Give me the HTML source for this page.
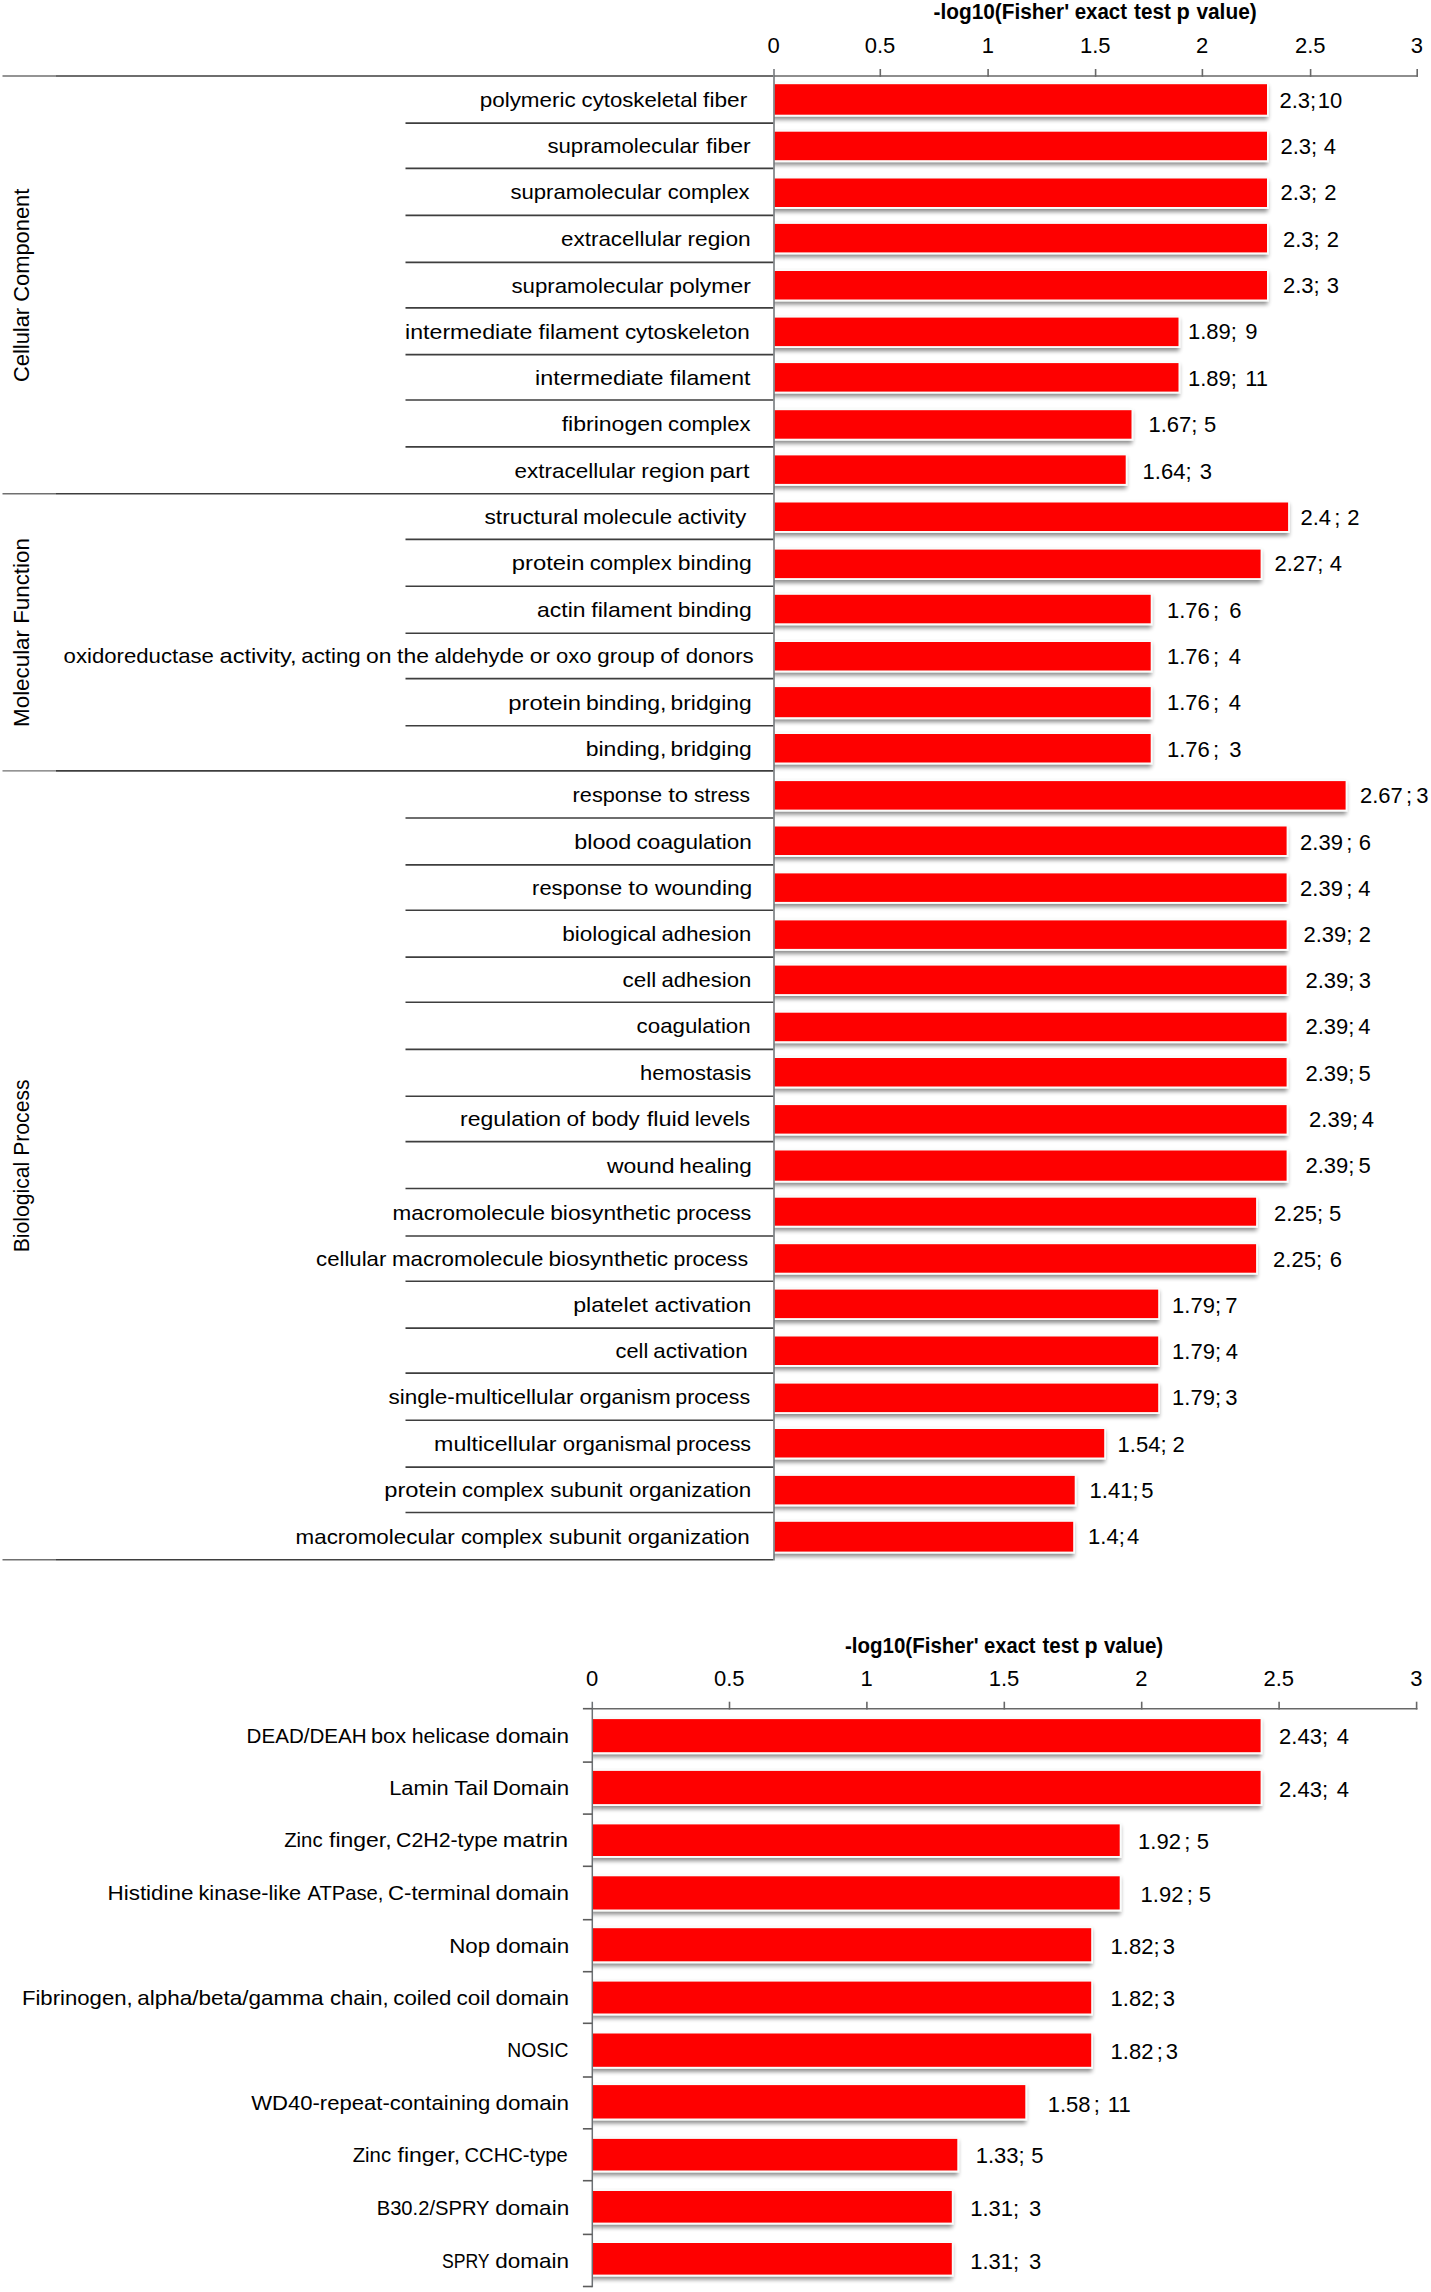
<!DOCTYPE html>
<html lang="en"><head><meta charset="utf-8"><title>GO enrichment bar charts</title>
<style>html,body{margin:0;padding:0;background:#fff}svg{display:block}</style>
</head><body>
<svg width="1431" height="2292" viewBox="0 0 1431 2292" font-family='"Liberation Sans", sans-serif' font-size="20.4" fill="#000">
<defs><filter id="sh" x="-2%" y="-40%" width="104%" height="190%"><feGaussianBlur in="SourceAlpha" stdDeviation="2.1"/><feOffset dx="-0.6" dy="3.2" result="b"/><feComponentTransfer><feFuncA type="linear" slope="0.46"/></feComponentTransfer><feMerge><feMergeNode/><feMergeNode in="SourceGraphic"/></feMerge></filter><clipPath id="c1"><rect x="774.0" y="0" width="1431" height="1600"/></clipPath><clipPath id="c2"><rect x="592.3" y="1600" width="1431" height="700"/></clipPath></defs>
<rect width="1431" height="2292" fill="#fff"/>
<g clip-path="url(#c1)"><g filter="url(#sh)">
<rect x="773.0" y="82.6" width="495.8" height="34.0" fill="#fafcfb"/>
<rect x="773.0" y="130.1" width="495.8" height="32.0" fill="#fafcfb"/>
<rect x="773.0" y="176.9" width="495.8" height="32.0" fill="#fafcfb"/>
<rect x="773.0" y="222.3" width="495.8" height="32.0" fill="#fafcfb"/>
<rect x="773.0" y="269.4" width="495.8" height="32.0" fill="#fafcfb"/>
<rect x="773.0" y="316.0" width="407.3" height="32.0" fill="#fafcfb"/>
<rect x="773.0" y="361.5" width="407.3" height="32.0" fill="#fafcfb"/>
<rect x="773.0" y="408.6" width="360.3" height="32.0" fill="#fafcfb"/>
<rect x="773.0" y="453.8" width="354.5" height="32.0" fill="#fafcfb"/>
<rect x="773.0" y="500.9" width="516.9" height="32.0" fill="#fafcfb"/>
<rect x="773.0" y="548.0" width="489.4" height="32.0" fill="#fafcfb"/>
<rect x="773.0" y="593.2" width="379.5" height="32.0" fill="#fafcfb"/>
<rect x="773.0" y="640.4" width="379.5" height="32.0" fill="#fafcfb"/>
<rect x="773.0" y="685.5" width="379.5" height="33.6" fill="#fafcfb"/>
<rect x="773.0" y="732.4" width="379.5" height="32.0" fill="#fafcfb"/>
<rect x="773.0" y="779.5" width="574.4" height="32.0" fill="#fafcfb"/>
<rect x="773.0" y="824.9" width="515.4" height="32.0" fill="#fafcfb"/>
<rect x="773.0" y="871.8" width="515.4" height="32.0" fill="#fafcfb"/>
<rect x="773.0" y="918.8" width="515.4" height="32.0" fill="#fafcfb"/>
<rect x="773.0" y="964.0" width="515.4" height="32.0" fill="#fafcfb"/>
<rect x="773.0" y="1011.1" width="515.4" height="32.0" fill="#fafcfb"/>
<rect x="773.0" y="1056.4" width="515.4" height="32.0" fill="#fafcfb"/>
<rect x="773.0" y="1103.5" width="515.4" height="32.0" fill="#fafcfb"/>
<rect x="773.0" y="1148.9" width="515.4" height="33.7" fill="#fafcfb"/>
<rect x="773.0" y="1196.1" width="484.9" height="31.5" fill="#fafcfb"/>
<rect x="773.0" y="1242.6" width="484.9" height="32.0" fill="#fafcfb"/>
<rect x="773.0" y="1288.0" width="387.0" height="32.0" fill="#fafcfb"/>
<rect x="773.0" y="1334.9" width="387.0" height="32.0" fill="#fafcfb"/>
<rect x="773.0" y="1382.0" width="387.0" height="32.0" fill="#fafcfb"/>
<rect x="773.0" y="1427.4" width="333.0" height="32.0" fill="#fafcfb"/>
<rect x="773.0" y="1474.3" width="303.5" height="32.0" fill="#fafcfb"/>
<rect x="773.0" y="1520.2" width="302.0" height="33.3" fill="#fafcfb"/>
</g></g>
<g fill="#fe0000">
<rect x="774.6" y="84.2" width="492.4" height="30.5"/>
<rect x="774.6" y="131.7" width="492.4" height="28.5"/>
<rect x="774.6" y="178.5" width="492.4" height="28.5"/>
<rect x="774.6" y="223.9" width="492.4" height="28.5"/>
<rect x="774.6" y="271.0" width="492.4" height="28.5"/>
<rect x="774.6" y="317.6" width="403.9" height="28.5"/>
<rect x="774.6" y="363.1" width="403.9" height="28.5"/>
<rect x="774.6" y="410.2" width="356.9" height="28.5"/>
<rect x="774.6" y="455.4" width="351.1" height="28.5"/>
<rect x="774.6" y="502.5" width="513.5" height="28.5"/>
<rect x="774.6" y="549.6" width="486.0" height="28.5"/>
<rect x="774.6" y="594.8" width="376.1" height="28.5"/>
<rect x="774.6" y="642.0" width="376.1" height="28.5"/>
<rect x="774.6" y="687.1" width="376.1" height="30.1"/>
<rect x="774.6" y="734.0" width="376.1" height="28.5"/>
<rect x="774.6" y="781.1" width="571.0" height="28.5"/>
<rect x="774.6" y="826.5" width="512.0" height="28.5"/>
<rect x="774.6" y="873.4" width="512.0" height="28.5"/>
<rect x="774.6" y="920.4" width="512.0" height="28.5"/>
<rect x="774.6" y="965.6" width="512.0" height="28.5"/>
<rect x="774.6" y="1012.7" width="512.0" height="28.5"/>
<rect x="774.6" y="1058.0" width="512.0" height="28.5"/>
<rect x="774.6" y="1105.1" width="512.0" height="28.5"/>
<rect x="774.6" y="1150.5" width="512.0" height="30.2"/>
<rect x="774.6" y="1197.7" width="481.5" height="28.0"/>
<rect x="774.6" y="1244.2" width="481.5" height="28.5"/>
<rect x="774.6" y="1289.6" width="383.6" height="28.5"/>
<rect x="774.6" y="1336.5" width="383.6" height="28.5"/>
<rect x="774.6" y="1383.6" width="383.6" height="28.5"/>
<rect x="774.6" y="1429.0" width="329.6" height="28.5"/>
<rect x="774.6" y="1475.9" width="300.1" height="28.5"/>
<rect x="774.6" y="1521.8" width="298.6" height="29.8"/>
</g>
<g stroke="#686868" stroke-width="1.6" fill="none">
<path d="M774.0 76.0H1418.0"/>
<path d="M880.3 69.0V76.8"/>
<path d="M988.1 69.0V76.8"/>
<path d="M1095.6 69.0V76.8"/>
<path d="M1202.4 69.0V76.8"/>
<path d="M1310.6 69.0V76.8"/>
<path d="M1417.2 69.0V76.8"/>
<path d="M774.0 69.0V1560.5" stroke="#6c7074" stroke-width="1.5"/>
<path d="M405.5 123.1H773.2" stroke="#3e3e3e"/>
<path d="M405.5 168.4H773.2" stroke="#3e3e3e"/>
<path d="M405.5 215.4H773.2" stroke="#3e3e3e"/>
<path d="M405.5 262.4H773.2" stroke="#3e3e3e"/>
<path d="M405.5 307.9H773.2" stroke="#3e3e3e"/>
<path d="M405.5 354.6H773.2" stroke="#3e3e3e"/>
<path d="M405.5 400.0H773.2" stroke="#3e3e3e"/>
<path d="M405.5 446.9H773.2" stroke="#3e3e3e"/>
<path d="M405.5 539.4H773.2" stroke="#3e3e3e"/>
<path d="M405.5 586.3H773.2" stroke="#3e3e3e"/>
<path d="M405.5 633.2H773.2" stroke="#3e3e3e"/>
<path d="M405.5 678.6H773.2" stroke="#3e3e3e"/>
<path d="M405.5 725.7H773.2" stroke="#3e3e3e"/>
<path d="M405.5 818.0H773.2" stroke="#3e3e3e"/>
<path d="M405.5 864.9H773.2" stroke="#3e3e3e"/>
<path d="M405.5 910.3H773.2" stroke="#3e3e3e"/>
<path d="M405.5 957.1H773.2" stroke="#3e3e3e"/>
<path d="M405.5 1002.3H773.2" stroke="#3e3e3e"/>
<path d="M405.5 1049.4H773.2" stroke="#3e3e3e"/>
<path d="M405.5 1096.2H773.2" stroke="#3e3e3e"/>
<path d="M405.5 1141.6H773.2" stroke="#3e3e3e"/>
<path d="M405.5 1188.5H773.2" stroke="#3e3e3e"/>
<path d="M405.5 1236.0H773.2" stroke="#3e3e3e"/>
<path d="M405.5 1281.3H773.2" stroke="#3e3e3e"/>
<path d="M405.5 1328.1H773.2" stroke="#3e3e3e"/>
<path d="M405.5 1373.1H773.2" stroke="#3e3e3e"/>
<path d="M405.5 1420.3H773.2" stroke="#3e3e3e"/>
<path d="M405.5 1467.1H773.2" stroke="#3e3e3e"/>
<path d="M405.5 1512.5H773.2" stroke="#3e3e3e"/>
<path d="M56 76.0H773.2" stroke="#3e3e3e"/>
<path d="M2.5 76.0H56" stroke="#707070" stroke-width="1.4"/>
<path d="M56 493.8H773.2" stroke="#3e3e3e"/>
<path d="M2.5 493.8H56" stroke="#707070" stroke-width="1.4"/>
<path d="M56 770.9H773.2" stroke="#3e3e3e"/>
<path d="M2.5 770.9H56" stroke="#707070" stroke-width="1.4"/>
<path d="M56 1559.7H773.2" stroke="#3e3e3e"/>
<path d="M2.5 1559.7H56" stroke="#707070" stroke-width="1.4"/>
</g>
<text y="18.8" font-weight="bold" font-size="22.0"><tspan x="933.5" textLength="135.6" lengthAdjust="spacingAndGlyphs">-log10(Fisher'</tspan> <tspan x="1074.7" textLength="52.4" lengthAdjust="spacingAndGlyphs">exact</tspan> <tspan x="1134.0" textLength="36.8" lengthAdjust="spacingAndGlyphs">test</tspan> <tspan x="1176.6" textLength="13.3" lengthAdjust="spacingAndGlyphs">p</tspan> <tspan x="1196.4" textLength="60.3" lengthAdjust="spacingAndGlyphs">value)</tspan></text>
<text x="773.7" y="52.5" text-anchor="middle" font-size="22.0">0</text>
<text x="880.0" y="52.5" text-anchor="middle" font-size="22.0">0.5</text>
<text x="987.8" y="52.5" text-anchor="middle" font-size="22.0">1</text>
<text x="1095.3" y="52.5" text-anchor="middle" font-size="22.0">1.5</text>
<text x="1202.1" y="52.5" text-anchor="middle" font-size="22.0">2</text>
<text x="1310.3" y="52.5" text-anchor="middle" font-size="22.0">2.5</text>
<text x="1416.9" y="52.5" text-anchor="middle" font-size="22.0">3</text>
<text y="107.0"><tspan x="479.7" textLength="96.0" lengthAdjust="spacingAndGlyphs">polymeric</tspan> <tspan x="581.6" textLength="115.9" lengthAdjust="spacingAndGlyphs">cytoskeletal</tspan> <tspan x="703.1" textLength="44.1" lengthAdjust="spacingAndGlyphs">fiber</tspan></text>
<text y="107.8" font-size="22.0"><tspan x="1279.5">2.3;</tspan><tspan x="1342.3" text-anchor="end">10</tspan></text>
<text y="153.2"><tspan x="547.4" textLength="151.8" lengthAdjust="spacingAndGlyphs">supramolecular</tspan> <tspan x="706.0" textLength="44.7" lengthAdjust="spacingAndGlyphs">fiber</tspan></text>
<text y="153.9" font-size="22.0"><tspan x="1280.5">2.3;</tspan><tspan x="1336.0" text-anchor="end"> 4</tspan></text>
<text y="199.4"><tspan x="510.4" textLength="151.2" lengthAdjust="spacingAndGlyphs">supramolecular</tspan> <tspan x="667.8" textLength="81.8" lengthAdjust="spacingAndGlyphs">complex</tspan></text>
<text y="200.1" font-size="22.0"><tspan x="1280.5">2.3;</tspan><tspan x="1336.5" text-anchor="end"> 2</tspan></text>
<text y="246.4"><tspan x="561.1" textLength="120.7" lengthAdjust="spacingAndGlyphs">extracellular</tspan> <tspan x="687.5" textLength="63.2" lengthAdjust="spacingAndGlyphs">region</tspan></text>
<text y="247.1" font-size="22.0"><tspan x="1283.0">2.3;</tspan><tspan x="1339.0" text-anchor="end"> 2</tspan></text>
<text y="292.6"><tspan x="511.4" textLength="152.1" lengthAdjust="spacingAndGlyphs">supramolecular</tspan> <tspan x="669.3" textLength="81.5" lengthAdjust="spacingAndGlyphs">polymer</tspan></text>
<text y="293.3" font-size="22.0"><tspan x="1283.0">2.3;</tspan><tspan x="1338.9" text-anchor="end"> 3</tspan></text>
<text y="338.8"><tspan x="405.1" textLength="127.3" lengthAdjust="spacingAndGlyphs">intermediate</tspan> <tspan x="538.6" textLength="80.0" lengthAdjust="spacingAndGlyphs">filament</tspan> <tspan x="624.9" textLength="124.8" lengthAdjust="spacingAndGlyphs">cytoskeleton</tspan></text>
<text y="339.4" font-size="22.0"><tspan x="1187.9">1.89;</tspan><tspan x="1257.4" text-anchor="end"> 9</tspan></text>
<text y="384.8"><tspan x="535.1" textLength="128.5" lengthAdjust="spacingAndGlyphs">intermediate</tspan> <tspan x="669.8" textLength="80.7" lengthAdjust="spacingAndGlyphs">filament</tspan></text>
<text y="385.5" font-size="22.0"><tspan x="1187.9">1.89;</tspan><tspan x="1268.0" text-anchor="end"> 11</tspan></text>
<text y="430.9"><tspan x="561.7" textLength="101.2" lengthAdjust="spacingAndGlyphs">fibrinogen</tspan> <tspan x="668.1" textLength="82.5" lengthAdjust="spacingAndGlyphs">complex</tspan></text>
<text y="431.6" font-size="22.0"><tspan x="1148.4">1.67;</tspan><tspan x="1216.3" text-anchor="end"> 5</tspan></text>
<text y="477.9"><tspan x="514.6" textLength="121.0" lengthAdjust="spacingAndGlyphs">extracellular</tspan> <tspan x="641.3" textLength="63.3" lengthAdjust="spacingAndGlyphs">region</tspan> <tspan x="709.4" textLength="40.2" lengthAdjust="spacingAndGlyphs">part</tspan></text>
<text y="478.6" font-size="22.0"><tspan x="1142.6">1.64;</tspan><tspan x="1212.0" text-anchor="end"> 3</tspan></text>
<text y="524.1"><tspan x="484.4" textLength="93.9" lengthAdjust="spacingAndGlyphs">structural</tspan> <tspan x="582.9" textLength="89.2" lengthAdjust="spacingAndGlyphs">molecule</tspan> <tspan x="677.5" textLength="68.9" lengthAdjust="spacingAndGlyphs">activity</tspan></text>
<text y="524.8" font-size="22.0"><tspan x="1300.5">2.4</tspan><tspan dx="3.2">;</tspan><tspan x="1359.5" text-anchor="end"> 2</tspan></text>
<text y="570.3"><tspan x="511.7" textLength="72.9" lengthAdjust="spacingAndGlyphs">protein</tspan> <tspan x="589.8" textLength="82.1" lengthAdjust="spacingAndGlyphs">complex</tspan> <tspan x="677.8" textLength="73.9" lengthAdjust="spacingAndGlyphs">binding</tspan></text>
<text y="571.0" font-size="22.0"><tspan x="1274.5">2.27;</tspan><tspan x="1342.0" text-anchor="end"> 4</tspan></text>
<text y="617.2"><tspan x="537.1" textLength="48.4" lengthAdjust="spacingAndGlyphs">actin</tspan> <tspan x="591.3" textLength="80.6" lengthAdjust="spacingAndGlyphs">filament</tspan> <tspan x="677.8" textLength="73.9" lengthAdjust="spacingAndGlyphs">binding</tspan></text>
<text y="618.0" font-size="22.0"><tspan x="1166.9">1.76</tspan><tspan dx="3.2">;</tspan><tspan x="1241.4" text-anchor="end"> 6</tspan></text>
<text y="663.4"><tspan x="63.6" textLength="150.3" lengthAdjust="spacingAndGlyphs">oxidoreductase</tspan> <tspan x="219.5" textLength="77.2" lengthAdjust="spacingAndGlyphs">activity,</tspan> <tspan x="301.3" textLength="59.4" lengthAdjust="spacingAndGlyphs">acting</tspan> <tspan x="365.9" textLength="25.5" lengthAdjust="spacingAndGlyphs">on</tspan> <tspan x="397.1" textLength="31.9" lengthAdjust="spacingAndGlyphs">the</tspan> <tspan x="434.6" textLength="89.5" lengthAdjust="spacingAndGlyphs">aldehyde</tspan> <tspan x="529.7" textLength="20.3" lengthAdjust="spacingAndGlyphs">or</tspan> <tspan x="556.1" textLength="35.5" lengthAdjust="spacingAndGlyphs">oxo</tspan> <tspan x="597.3" textLength="57.3" lengthAdjust="spacingAndGlyphs">group</tspan> <tspan x="660.2" textLength="18.9" lengthAdjust="spacingAndGlyphs">of</tspan> <tspan x="685.7" textLength="68.0" lengthAdjust="spacingAndGlyphs">donors</tspan></text>
<text y="664.1" font-size="22.0"><tspan x="1166.9">1.76</tspan><tspan dx="3.2">;</tspan><tspan x="1241.0" text-anchor="end"> 4</tspan></text>
<text y="709.7"><tspan x="508.2" textLength="72.9" lengthAdjust="spacingAndGlyphs">protein</tspan> <tspan x="585.9" textLength="80.5" lengthAdjust="spacingAndGlyphs">binding,</tspan> <tspan x="670.6" textLength="81.1" lengthAdjust="spacingAndGlyphs">bridging</tspan></text>
<text y="710.4" font-size="22.0"><tspan x="1166.9">1.76</tspan><tspan dx="3.2">;</tspan><tspan x="1241.0" text-anchor="end"> 4</tspan></text>
<text y="755.8"><tspan x="585.7" textLength="80.6" lengthAdjust="spacingAndGlyphs">binding,</tspan> <tspan x="670.6" textLength="81.2" lengthAdjust="spacingAndGlyphs">bridging</tspan></text>
<text y="756.5" font-size="22.0"><tspan x="1166.9">1.76</tspan><tspan dx="3.2">;</tspan><tspan x="1241.4" text-anchor="end"> 3</tspan></text>
<text y="802.0"><tspan x="572.6" textLength="89.4" lengthAdjust="spacingAndGlyphs">response</tspan> <tspan x="668.2" textLength="20.0" lengthAdjust="spacingAndGlyphs">to</tspan> <tspan x="694.1" textLength="56.0" lengthAdjust="spacingAndGlyphs">stress</tspan></text>
<text y="802.7" font-size="22.0"><tspan x="1360.0">2.67</tspan><tspan dx="3.2">;</tspan><tspan x="1428.4" text-anchor="end"> 3</tspan></text>
<text y="849.0"><tspan x="574.2" textLength="57.2" lengthAdjust="spacingAndGlyphs">blood</tspan> <tspan x="636.6" textLength="115.2" lengthAdjust="spacingAndGlyphs">coagulation</tspan></text>
<text y="849.7" font-size="22.0"><tspan x="1300.1">2.39</tspan><tspan dx="3.2">;</tspan><tspan x="1370.9" text-anchor="end"> 6</tspan></text>
<text y="895.1"><tspan x="532.1" textLength="90.0" lengthAdjust="spacingAndGlyphs">response</tspan> <tspan x="628.3" textLength="20.1" lengthAdjust="spacingAndGlyphs">to</tspan> <tspan x="655.0" textLength="97.2" lengthAdjust="spacingAndGlyphs">wounding</tspan></text>
<text y="895.8" font-size="22.0"><tspan x="1300.1">2.39</tspan><tspan dx="3.2">;</tspan><tspan x="1370.5" text-anchor="end"> 4</tspan></text>
<text y="941.2"><tspan x="562.2" textLength="94.2" lengthAdjust="spacingAndGlyphs">biological</tspan> <tspan x="661.6" textLength="89.6" lengthAdjust="spacingAndGlyphs">adhesion</tspan></text>
<text y="941.9" font-size="22.0"><tspan x="1303.5">2.39;</tspan><tspan x="1371.0" text-anchor="end"> 2</tspan></text>
<text y="987.2"><tspan x="622.6" textLength="33.7" lengthAdjust="spacingAndGlyphs">cell</tspan> <tspan x="661.5" textLength="89.8" lengthAdjust="spacingAndGlyphs">adhesion</tspan></text>
<text y="987.9" font-size="22.0"><tspan x="1305.5">2.39;</tspan><tspan x="1370.9" text-anchor="end"> 3</tspan></text>
<text y="1033.3"><tspan x="636.6" textLength="114.1" lengthAdjust="spacingAndGlyphs">coagulation</tspan></text>
<text y="1034.0" font-size="22.0"><tspan x="1305.5">2.39;</tspan><tspan x="1370.5" text-anchor="end"> 4</tspan></text>
<text y="1080.3"><tspan x="640.1" textLength="111.1" lengthAdjust="spacingAndGlyphs">hemostasis</tspan></text>
<text y="1081.0" font-size="22.0"><tspan x="1305.5">2.39;</tspan><tspan x="1370.8" text-anchor="end"> 5</tspan></text>
<text y="1126.4"><tspan x="460.1" textLength="101.0" lengthAdjust="spacingAndGlyphs">regulation</tspan> <tspan x="566.4" textLength="18.9" lengthAdjust="spacingAndGlyphs">of</tspan> <tspan x="591.4" textLength="48.3" lengthAdjust="spacingAndGlyphs">body</tspan> <tspan x="646.7" textLength="43.3" lengthAdjust="spacingAndGlyphs">fluid</tspan> <tspan x="694.7" textLength="55.4" lengthAdjust="spacingAndGlyphs">levels</tspan></text>
<text y="1127.1" font-size="22.0"><tspan x="1309.1">2.39;</tspan><tspan x="1374.0" text-anchor="end"> 4</tspan></text>
<text y="1172.5"><tspan x="607.0" textLength="67.6" lengthAdjust="spacingAndGlyphs">wound</tspan> <tspan x="679.3" textLength="72.4" lengthAdjust="spacingAndGlyphs">healing</tspan></text>
<text y="1173.2" font-size="22.0"><tspan x="1305.5">2.39;</tspan><tspan x="1370.8" text-anchor="end"> 5</tspan></text>
<text y="1219.8"><tspan x="392.6" textLength="152.4" lengthAdjust="spacingAndGlyphs">macromolecule</tspan> <tspan x="550.2" textLength="120.4" lengthAdjust="spacingAndGlyphs">biosynthetic</tspan> <tspan x="676.2" textLength="75.0" lengthAdjust="spacingAndGlyphs">process</tspan></text>
<text y="1220.5" font-size="22.0"><tspan x="1274.1">2.25;</tspan><tspan x="1341.3" text-anchor="end"> 5</tspan></text>
<text y="1266.2"><tspan x="316.1" textLength="70.2" lengthAdjust="spacingAndGlyphs">cellular</tspan> <tspan x="392.0" textLength="151.4" lengthAdjust="spacingAndGlyphs">macromolecule</tspan> <tspan x="548.5" textLength="119.6" lengthAdjust="spacingAndGlyphs">biosynthetic</tspan> <tspan x="673.6" textLength="74.5" lengthAdjust="spacingAndGlyphs">process</tspan></text>
<text y="1266.9" font-size="22.0"><tspan x="1273.1">2.25;</tspan><tspan x="1342.0" text-anchor="end"> 6</tspan></text>
<text y="1312.2"><tspan x="573.2" textLength="74.8" lengthAdjust="spacingAndGlyphs">platelet</tspan> <tspan x="654.4" textLength="96.9" lengthAdjust="spacingAndGlyphs">activation</tspan></text>
<text y="1312.9" font-size="22.0"><tspan x="1172.1">1.79;</tspan><tspan x="1237.6" text-anchor="end"> 7</tspan></text>
<text y="1358.1"><tspan x="615.6" textLength="32.7" lengthAdjust="spacingAndGlyphs">cell</tspan> <tspan x="653.3" textLength="94.4" lengthAdjust="spacingAndGlyphs">activation</tspan></text>
<text y="1358.8" font-size="22.0"><tspan x="1172.1">1.79;</tspan><tspan x="1238.1" text-anchor="end"> 4</tspan></text>
<text y="1404.2"><tspan x="388.4" textLength="185.0" lengthAdjust="spacingAndGlyphs">single-multicellular</tspan> <tspan x="579.6" textLength="91.0" lengthAdjust="spacingAndGlyphs">organism</tspan> <tspan x="675.3" textLength="74.8" lengthAdjust="spacingAndGlyphs">process</tspan></text>
<text y="1404.9" font-size="22.0"><tspan x="1172.1">1.79;</tspan><tspan x="1237.5" text-anchor="end"> 3</tspan></text>
<text y="1451.2"><tspan x="434.1" textLength="122.5" lengthAdjust="spacingAndGlyphs">multicellular</tspan> <tspan x="562.8" textLength="108.5" lengthAdjust="spacingAndGlyphs">organismal</tspan> <tspan x="676.0" textLength="75.1" lengthAdjust="spacingAndGlyphs">process</tspan></text>
<text y="1451.9" font-size="22.0"><tspan x="1117.6">1.54;</tspan><tspan x="1184.7" text-anchor="end"> 2</tspan></text>
<text y="1497.3"><tspan x="384.2" textLength="72.6" lengthAdjust="spacingAndGlyphs">protein</tspan> <tspan x="462.0" textLength="81.8" lengthAdjust="spacingAndGlyphs">complex</tspan> <tspan x="550.3" textLength="72.3" lengthAdjust="spacingAndGlyphs">subunit</tspan> <tspan x="629.0" textLength="122.2" lengthAdjust="spacingAndGlyphs">organization</tspan></text>
<text y="1498.0" font-size="22.0"><tspan x="1089.6">1.41;</tspan><tspan x="1153.5" text-anchor="end"> 5</tspan></text>
<text y="1543.6"><tspan x="295.6" textLength="159.1" lengthAdjust="spacingAndGlyphs">macromolecular</tspan> <tspan x="460.9" textLength="81.6" lengthAdjust="spacingAndGlyphs">complex</tspan> <tspan x="549.1" textLength="72.2" lengthAdjust="spacingAndGlyphs">subunit</tspan> <tspan x="627.7" textLength="122.1" lengthAdjust="spacingAndGlyphs">organization</tspan></text>
<text y="1544.3" font-size="22.0"><tspan x="1088.1">1.4;</tspan><tspan x="1139.2" text-anchor="end">4</tspan></text>
<text transform="translate(28.5 382.0) rotate(-90)" textLength="193.3" lengthAdjust="spacingAndGlyphs" font-size="22.4">Cellular Component</text>
<text transform="translate(28.5 726.9) rotate(-90)" textLength="188.8" lengthAdjust="spacingAndGlyphs" font-size="22.4">Molecular Function</text>
<text transform="translate(28.5 1252.3) rotate(-90)" textLength="172.9" lengthAdjust="spacingAndGlyphs" font-size="22.4">Biological Process</text>
<g clip-path="url(#c2)"><g filter="url(#sh)">
<rect x="591.3" y="1717.5" width="671.1" height="36.6" fill="#fafcfb"/>
<rect x="591.3" y="1769.3" width="671.1" height="36.7" fill="#fafcfb"/>
<rect x="591.3" y="1822.8" width="530.2" height="35.1" fill="#fafcfb"/>
<rect x="591.3" y="1874.7" width="530.2" height="36.7" fill="#fafcfb"/>
<rect x="591.3" y="1926.6" width="501.7" height="36.6" fill="#fafcfb"/>
<rect x="591.3" y="1980.0" width="501.7" height="35.4" fill="#fafcfb"/>
<rect x="591.3" y="2031.9" width="501.7" height="36.8" fill="#fafcfb"/>
<rect x="591.3" y="2083.5" width="435.8" height="36.9" fill="#fafcfb"/>
<rect x="591.3" y="2137.3" width="367.8" height="35.1" fill="#fafcfb"/>
<rect x="591.3" y="2189.4" width="362.3" height="35.1" fill="#fafcfb"/>
<rect x="591.3" y="2241.4" width="362.3" height="35.1" fill="#fafcfb"/>
</g></g>
<g fill="#fe0000">
<rect x="592.9" y="1719.1" width="667.7" height="33.1"/>
<rect x="592.9" y="1770.9" width="667.7" height="33.2"/>
<rect x="592.9" y="1824.4" width="526.8" height="31.6"/>
<rect x="592.9" y="1876.3" width="526.8" height="33.2"/>
<rect x="592.9" y="1928.2" width="498.3" height="33.1"/>
<rect x="592.9" y="1981.6" width="498.3" height="31.9"/>
<rect x="592.9" y="2033.5" width="498.3" height="33.3"/>
<rect x="592.9" y="2085.1" width="432.4" height="33.4"/>
<rect x="592.9" y="2138.9" width="364.4" height="31.6"/>
<rect x="592.9" y="2191.0" width="358.9" height="31.6"/>
<rect x="592.9" y="2243.0" width="358.9" height="31.6"/>
</g>
<g stroke="#686868" stroke-width="1.6" fill="none">
<path d="M592.3 1708.7H1417.4"/>
<path d="M729.5 1701.7V1709.5"/>
<path d="M866.9 1701.7V1709.5"/>
<path d="M1004.3 1701.7V1709.5"/>
<path d="M1141.7 1701.7V1709.5"/>
<path d="M1279.1 1701.7V1709.5"/>
<path d="M1416.6 1701.7V1709.5"/>
<path d="M592.3 1701.7V2287.3" stroke="#6c7074" stroke-width="1.5"/>
<path d="M582.9 1708.7H592.3" stroke="#5c5c5c"/>
<path d="M582.9 1762.1H592.3" stroke="#5c5c5c"/>
<path d="M582.9 1814.1H592.3" stroke="#5c5c5c"/>
<path d="M582.9 1866.3H592.3" stroke="#5c5c5c"/>
<path d="M582.9 1919.7H592.3" stroke="#5c5c5c"/>
<path d="M582.9 1971.7H592.3" stroke="#5c5c5c"/>
<path d="M582.9 2023.3H592.3" stroke="#5c5c5c"/>
<path d="M582.9 2077.0H592.3" stroke="#5c5c5c"/>
<path d="M582.9 2128.8H592.3" stroke="#5c5c5c"/>
<path d="M582.9 2180.7H592.3" stroke="#5c5c5c"/>
<path d="M582.9 2234.4H592.3" stroke="#5c5c5c"/>
<path d="M582.9 2286.5H592.3" stroke="#5c5c5c"/>
</g>
<text y="1652.5" font-weight="bold" font-size="22.0"><tspan x="845.0" textLength="133.6" lengthAdjust="spacingAndGlyphs">-log10(Fisher'</tspan> <tspan x="984.0" textLength="51.6" lengthAdjust="spacingAndGlyphs">exact</tspan> <tspan x="1042.5" textLength="36.3" lengthAdjust="spacingAndGlyphs">test</tspan> <tspan x="1084.4" textLength="13.1" lengthAdjust="spacingAndGlyphs">p</tspan> <tspan x="1103.9" textLength="59.3" lengthAdjust="spacingAndGlyphs">value)</tspan></text>
<text x="592.0" y="1685.5" text-anchor="middle" font-size="22.0">0</text>
<text x="729.2" y="1685.5" text-anchor="middle" font-size="22.0">0.5</text>
<text x="866.6" y="1685.5" text-anchor="middle" font-size="22.0">1</text>
<text x="1004.0" y="1685.5" text-anchor="middle" font-size="22.0">1.5</text>
<text x="1141.4" y="1685.5" text-anchor="middle" font-size="22.0">2</text>
<text x="1278.8" y="1685.5" text-anchor="middle" font-size="22.0">2.5</text>
<text x="1416.3" y="1685.5" text-anchor="middle" font-size="22.0">3</text>
<text y="1742.6"><tspan x="246.6" textLength="120.1" lengthAdjust="spacingAndGlyphs">DEAD/DEAH</tspan> <tspan x="371.0" textLength="35.0" lengthAdjust="spacingAndGlyphs">box</tspan> <tspan x="411.7" textLength="78.3" lengthAdjust="spacingAndGlyphs">helicase</tspan> <tspan x="495.4" textLength="73.7" lengthAdjust="spacingAndGlyphs">domain</tspan></text>
<text y="1744.0" font-size="22.0"><tspan x="1279.1">2.43;</tspan><tspan x="1349.0" text-anchor="end"> 4</tspan></text>
<text y="1795.3"><tspan x="389.2" textLength="59.5" lengthAdjust="spacingAndGlyphs">Lamin</tspan> <tspan x="454.3" textLength="33.9" lengthAdjust="spacingAndGlyphs">Tail</tspan> <tspan x="492.4" textLength="76.7" lengthAdjust="spacingAndGlyphs">Domain</tspan></text>
<text y="1796.7" font-size="22.0"><tspan x="1279.1">2.43;</tspan><tspan x="1349.0" text-anchor="end"> 4</tspan></text>
<text y="1847.4"><tspan x="284.2" textLength="38.4" lengthAdjust="spacingAndGlyphs">Zinc</tspan> <tspan x="329.0" textLength="62.6" lengthAdjust="spacingAndGlyphs">finger,</tspan> <tspan x="396.0" textLength="101.9" lengthAdjust="spacingAndGlyphs">C2H2-type</tspan> <tspan x="502.8" textLength="65.3" lengthAdjust="spacingAndGlyphs">matrin</tspan></text>
<text y="1848.8" font-size="22.0"><tspan x="1138.1">1.92</tspan><tspan dx="3.2">;</tspan><tspan x="1209.0" text-anchor="end"> 5</tspan></text>
<text y="1900.2"><tspan x="107.5" textLength="86.0" lengthAdjust="spacingAndGlyphs">Histidine</tspan> <tspan x="198.5" textLength="102.6" lengthAdjust="spacingAndGlyphs">kinase-like</tspan> <tspan x="307.4" textLength="76.1" lengthAdjust="spacingAndGlyphs">ATPase,</tspan> <tspan x="388.0" textLength="102.4" lengthAdjust="spacingAndGlyphs">C-terminal</tspan> <tspan x="495.4" textLength="73.7" lengthAdjust="spacingAndGlyphs">domain</tspan></text>
<text y="1901.6" font-size="22.0"><tspan x="1140.6">1.92</tspan><tspan dx="3.2">;</tspan><tspan x="1211.0" text-anchor="end"> 5</tspan></text>
<text y="1952.9"><tspan x="449.2" textLength="40.9" lengthAdjust="spacingAndGlyphs">Nop</tspan> <tspan x="495.7" textLength="73.4" lengthAdjust="spacingAndGlyphs">domain</tspan></text>
<text y="1954.3" font-size="22.0"><tspan x="1110.6">1.82;</tspan><tspan x="1175.1" text-anchor="end"> 3</tspan></text>
<text y="2004.7"><tspan x="21.9" textLength="110.8" lengthAdjust="spacingAndGlyphs">Fibrinogen,</tspan> <tspan x="137.3" textLength="186.3" lengthAdjust="spacingAndGlyphs">alpha/beta/gamma</tspan> <tspan x="330.0" textLength="58.7" lengthAdjust="spacingAndGlyphs">chain,</tspan> <tspan x="393.3" textLength="58.1" lengthAdjust="spacingAndGlyphs">coiled</tspan> <tspan x="456.5" textLength="33.9" lengthAdjust="spacingAndGlyphs">coil</tspan> <tspan x="495.4" textLength="73.7" lengthAdjust="spacingAndGlyphs">domain</tspan></text>
<text y="2006.1" font-size="22.0"><tspan x="1110.6">1.82;</tspan><tspan x="1175.1" text-anchor="end"> 3</tspan></text>
<text y="2057.3"><tspan x="507.3" textLength="61.3" lengthAdjust="spacingAndGlyphs">NOSIC</tspan></text>
<text y="2058.8" font-size="22.0"><tspan x="1110.6">1.82</tspan><tspan dx="3.2">;</tspan><tspan x="1178.1" text-anchor="end"> 3</tspan></text>
<text y="2110.1"><tspan x="251.2" textLength="239.2" lengthAdjust="spacingAndGlyphs">WD40-repeat-containing</tspan> <tspan x="495.5" textLength="73.6" lengthAdjust="spacingAndGlyphs">domain</tspan></text>
<text y="2111.5" font-size="22.0"><tspan x="1047.7">1.58</tspan><tspan dx="3.2">;</tspan><tspan x="1130.7" text-anchor="end"> 11</tspan></text>
<text y="2161.9"><tspan x="352.7" textLength="38.4" lengthAdjust="spacingAndGlyphs">Zinc</tspan> <tspan x="397.5" textLength="62.6" lengthAdjust="spacingAndGlyphs">finger,</tspan> <tspan x="464.5" textLength="103.2" lengthAdjust="spacingAndGlyphs">CCHC-type</tspan></text>
<text y="2163.3" font-size="22.0"><tspan x="975.7">1.33;</tspan><tspan x="1043.6" text-anchor="end"> 5</tspan></text>
<text y="2214.8"><tspan x="376.7" textLength="112.5" lengthAdjust="spacingAndGlyphs">B30.2/SPRY</tspan> <tspan x="495.3" textLength="73.9" lengthAdjust="spacingAndGlyphs">domain</tspan></text>
<text y="2216.2" font-size="22.0"><tspan x="970.2">1.31;</tspan><tspan x="1041.2" text-anchor="end"> 3</tspan></text>
<text y="2267.6"><tspan x="442.0" textLength="47.3" lengthAdjust="spacingAndGlyphs">SPRY</tspan> <tspan x="495.3" textLength="73.8" lengthAdjust="spacingAndGlyphs">domain</tspan></text>
<text y="2269.0" font-size="22.0"><tspan x="970.2">1.31;</tspan><tspan x="1041.2" text-anchor="end"> 3</tspan></text>
</svg></body></html>
